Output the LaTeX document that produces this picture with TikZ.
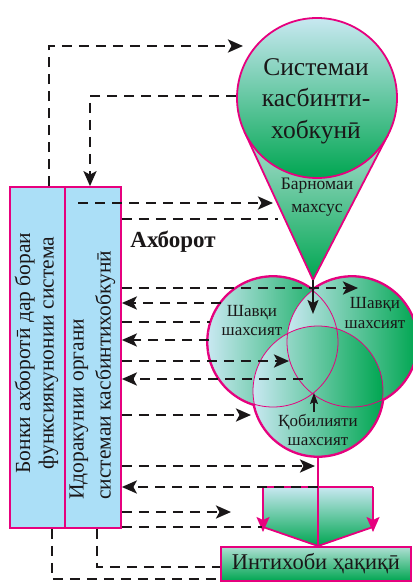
\documentclass[tikz,border=0pt]{standalone}
\usepackage{fontspec}
\setmainfont{Liberation Serif}
\usetikzlibrary{arrows.meta,calc}
\definecolor{mag}{HTML}{E6007E}
\definecolor{gr}{HTML}{00A651}
\definecolor{lb}{HTML}{C8E8F1}
\definecolor{tealtop}{HTML}{AEDFD3}
\definecolor{boxblue}{HTML}{ABDFF7}
\definecolor{txt}{HTML}{1A1718}
\begin{document}
\begin{tikzpicture}[x=1pt,y=-1pt,
  dline/.style={draw=txt, line width=2.6pt, dash pattern=on 10pt off 7pt},
  arr/.style={-{Stealth[length=15pt,width=13pt,inset=3.5pt]}},
  solidarr/.style={draw=txt, line width=2pt, -{Stealth[length=14pt,width=11pt,inset=3pt]}},
  smallarr/.style={draw=txt, line width=1.4pt, -{Stealth[length=11pt,width=8pt,inset=2pt]}},
  magline/.style={draw=mag, line width=1.8pt},
  infobox/.style={draw=mag, line width=1.7pt, fill=boxblue, inner sep=0pt},
  vennfill/.style={circle, minimum size=130pt, inner sep=0pt, left color=lb, right color=gr},
  lbl/.style={text=txt, align=center, inner sep=0pt},
]
\useasboundingbox (0,0) rectangle (412,585);

% left information boxes
\node[infobox, minimum width=55pt, minimum height=341pt] (bA) at (37.5,357.5) {};
\node[infobox, minimum width=56pt, minimum height=341pt] (bB) at (93,357.5) {};
\node[lbl, rotate=90, font=\fontsize{21.5}{23.5}\selectfont] (tA) at (36.5,353)
  {Бонки ахборотӣ дар бораи\\функсиякунонии система};
\node[lbl, rotate=90, anchor=west, align=left, font=\fontsize{21.5}{27}\selectfont] (tB) at (92.5,500)
  {Идоракунии органи\\системаи касбинтихобкунӣ};

% funnel triangle
\coordinate (tip) at (313,280);
\shade[top color=tealtop, bottom color=gr] (244.4,131.6) -- (tip) -- (388,134.8) -- cycle;
\draw[magline, line join=miter] (244.4,131.6) -- (tip) -- (388,134.8);
\node[lbl, font=\fontsize{17.5}{22.5}\selectfont] (prog) at (317,197) {Барномаи\\махсус};

% big circle
\node[circle, minimum size=160pt, inner sep=0pt, draw=mag, line width=1.8pt,
      top color=lb, middle color=gr!75!lb, bottom color=gr] (sys) at (317,98) {};
\node[lbl, font=\fontsize{25.5}{31.5}\selectfont] (systxt) at (316,101) {Системаи\\касбинти-\\хобкунӣ};

% Venn circles
\coordinate (cL) at (273,342);
\coordinate (cR) at (352,342);
\coordinate (cB) at (318,391);
\draw[draw=mag, line width=3.8pt] (cL) circle[radius=65] (cR) circle[radius=65] (cB) circle[radius=65];
\node[vennfill] (L) at (cL) {};
\node[vennfill] (R) at (cR) {};
\node[vennfill] (B) at (cB) {};
\draw[draw=mag, line width=0.8pt] (cL) circle[radius=65] (cR) circle[radius=65] (cB) circle[radius=65];
\node[lbl, font=\fontsize{17}{19}\selectfont] (tL) at (252,321) {Шавқи\\шахсият};
\node[lbl, font=\fontsize{17}{20}\selectfont] (tR) at (375,313) {Шавқи\\шахсият};
\node[lbl, font=\fontsize{17}{18.5}\selectfont] (tBt) at (318,430) {Қобилияти\\шахсият};

% pentagon
\shade[top color=lb, bottom color=gr] (263,487) -- (373,487) -- (373,527) -- (318,546) -- (263,527) -- cycle;
\draw[magline] (263,527) -- (318,546) -- (373,527);
\draw[magline] (263,487) -- (373,487);
\draw[magline, -{Stealth[length=15pt,width=13pt,inset=3pt]}] (263,487) -- (263,532);
\draw[magline, -{Stealth[length=15pt,width=13pt,inset=3pt]}] (373,487) -- (373,532);

% final box
\node[draw=mag, line width=1.8pt, top color=tealtop, bottom color=gr, minimum width=190pt,
      minimum height=34pt, inner sep=0pt, text=txt, font=\fontsize{22.5}{24}\selectfont] (fin) at (316,564) {Интихоби ҳақиқӣ};
\draw[magline] (B.south) -- (fin.north -| B.south);

% solid arrows
\draw[solidarr] (tip) -- (313,314);
\coordinate (up1) at (314,412);
\draw[smallarr] (up1) -- (314,393);

% dashed connectors
\draw[dline, arr] (bA.north -| 49,0) -- (49,46) -- (243,46);
\draw[dline, arr] (sys.west |- 0,96) -- (90,96) -- (bB.north -| 90,0);
\draw[dline, arr] (78,203) -- (273,203);
\draw[dline] (bB.east |- 0,219) -- (278,219);
\draw[dline, arr] (bB.east |- 0,288) -- (358,288);
\draw[dline, arr] (221,303) -- (bB.east |- 0,303);
\draw[dline] (bB.east |- 0,322) -- (210,322);
\draw[dline, arr] (209,340) -- (bB.east |- 0,340);
\draw[dline, arr] (bB.east |- 0,361) -- (289,361);
\draw[dline, arr] (303,379) -- (bB.east |- 0,379);
\draw[dline, arr] (bB.east |- 0,415) -- (251,415);
\draw[dline, arr] (bB.east |- 0,466) -- (315,466);
\draw[dline, arr] (318,487) -- (bB.east |- 0,487);
\draw[dline, arr] (bB.east |- 0,512) -- (231,512);
\draw[dline] (bB.east |- 0,527) -- (262,527);
\draw[dline] (bB.south -| 97,0) -- (97,567) -- (fin.west |- 0,567);
\draw[dline] (bA.south -| 52,0) -- (52,579) -- (fin.west |- 0,579);

\node[text=txt, font=\bfseries\fontsize{23}{26}\selectfont, inner sep=0pt] (info) at (173,242) {Ахборот};
\end{tikzpicture}
\end{document}
